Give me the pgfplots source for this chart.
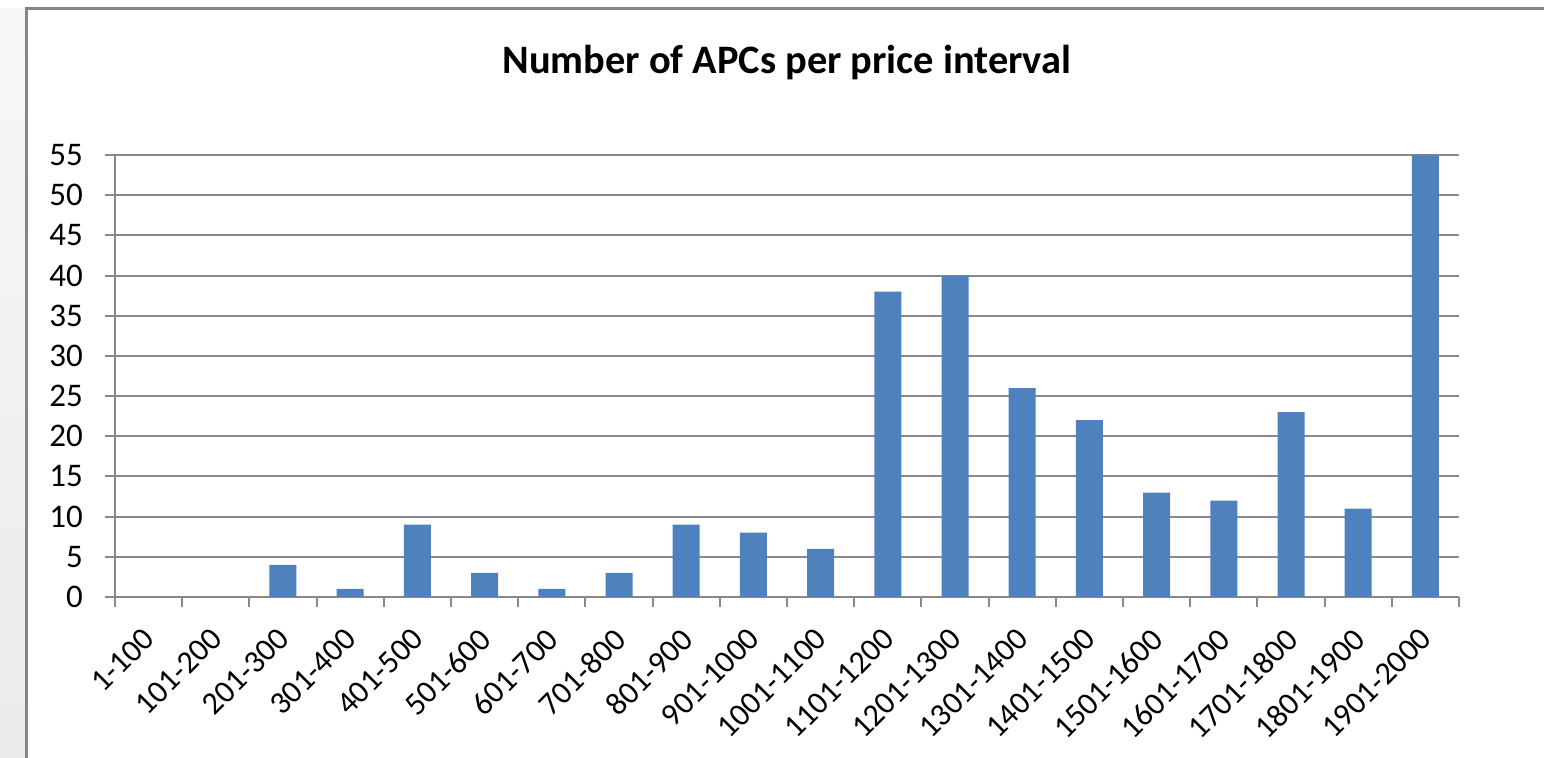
\documentclass[border=0pt]{standalone}
\usepackage{fontspec}
\setmainfont{Carlito}
\usepackage{pgfplots}
\pgfplotsset{compat=1.18}
\definecolor{barblue}{HTML}{4F81BD}
\definecolor{gridgray}{HTML}{888888}
\definecolor{framegray}{HTML}{858585}
\begin{document}
\begin{tikzpicture}
\path[use as bounding box] (-57.5pt,-80.5pt) rectangle (714.5pt,298.5pt);
\shade[top color=gray!6, bottom color=gray!16] (-57.5pt,-80.5pt) rectangle (-44.25pt,294pt);
\draw[framegray, line width=1.5pt] (-44.25pt,-90pt) -- (-44.25pt,294.25pt) -- (730pt,294.25pt);
\begin{axis}[
  at={(0pt,0pt)}, anchor=south west,
  width=672pt, height=221pt, scale only axis,
  xmin=-0.5, xmax=19.5, ymin=0, ymax=55,
  ytick={0,5,...,55},
  ymajorgrids, grid style={gridgray, line width=1pt},
  axis x line*=bottom, axis y line*=left,
  axis line style={gridgray, line width=1pt},
  tick align=outside,
  major tick length=5pt, minor tick length=5pt,
  y tick style={gridgray, line width=1pt},
  xtick={0,...,19},
  x tick style={draw=none},
  minor xtick={-0.5,0.5,...,19.5},
  minor x tick style={draw=gridgray, line width=1pt},
  xticklabels={1-100,101-200,201-300,301-400,401-500,501-600,601-700,701-800,801-900,901-1000,1001-1100,1101-1200,1201-1300,1301-1400,1401-1500,1501-1600,1601-1700,1701-1800,1801-1900,1901-2000},
  xticklabel style={xshift=-3.5pt, yshift=-8pt, rotate=45, anchor=north east, inner sep=1pt, font=\fontsize{16}{19}\selectfont},
  yticklabel style={font=\fontsize{16.5}{19}\selectfont, xshift=-7.5pt},
  /pgf/number format/assume math mode=true,
  ybar, bar width=13.5pt,
  clip=false,
]
\addplot[fill=barblue, draw=none] coordinates {
(0,0) (1,0) (2,4) (3,1) (4,9) (5,3) (6,1) (7,3) (8,9) (9,8)
(10,6) (11,38) (12,40) (13,26) (14,22) (15,13) (16,12) (17,23) (18,11) (19,55)
};
\end{axis}
\node[font=\bfseries\fontsize{20.2}{24}\selectfont] at (336pt,267pt) {Number of APCs per price interval};
\end{tikzpicture}
\end{document}
